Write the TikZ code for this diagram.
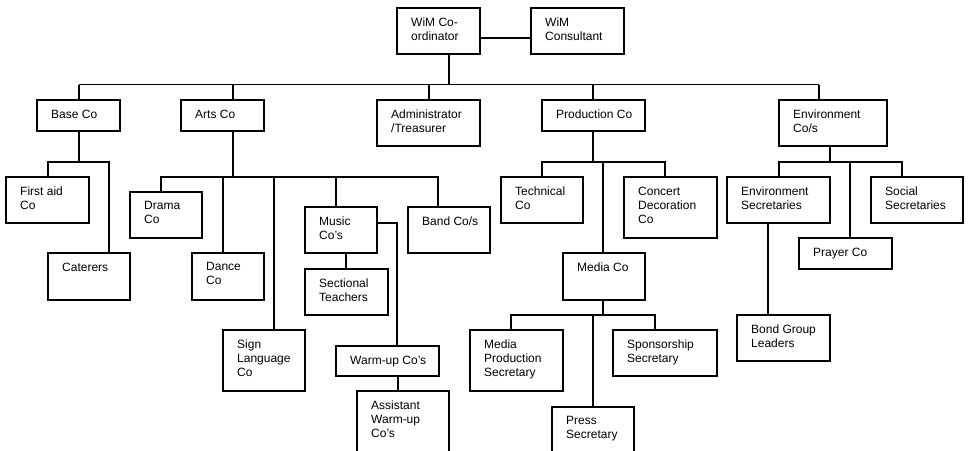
\documentclass[tikz,border=0pt]{standalone}
\usepackage{fontspec}
\setmainfont{Liberation Sans}
\tikzset{
  box/.style={draw, line width=1.1pt, inner sep=0pt, outer sep=0pt, anchor=north west},
  lbl/.style={anchor=north west, inner sep=0pt, align=left, font=\fontsize{12}{14}\selectfont},
  conn/.style={line width=1.1pt}
}
\newcommand\bx[6]{%
  \node[box, minimum width={(#4-#2)*1pt}, minimum height={(#5-#3)*1pt}] (#1) at (#2,#3) {};
  \node[lbl] (#1-t) at ([xshift=14pt,yshift=-9.5pt]#1.north west) {#6};
}
\begin{document}
\begin{tikzpicture}[x=1pt,y=-1pt]
\useasboundingbox (0,0) rectangle (969,450);
\fill[white] (0,0) rectangle (969,450);
\clip (0,0) rectangle (969,450);

% boxes
\bx{wimc}{397}{8}{480}{54}{WiM Co-\\ordinator}
\bx{wimk}{531}{8}{624}{54}{WiM\\Consultant}
\bx{base}{37}{100}{120}{131}{Base Co}
\bx{arts}{181}{100}{264}{131}{Arts Co}
\bx{admin}{377}{100}{480}{146}{Administrator\\/Treasurer}
\bx{prod}{542}{100}{645}{131}{Production Co}
\bx{env}{779}{100}{887}{146}{Environment\\Co/s}
\bx{first}{6}{177}{89}{223}{First aid\\Co}
\bx{cater}{48}{253}{130}{300}{Caterers}
\bx{drama}{130}{192}{202}{238}{Drama\\Co}
\bx{dance}{192}{253}{264}{300}{Dance\\Co}
\bx{sign}{223}{330}{305}{391}{Sign\\Language\\Co}
\bx{music}{305}{207}{377}{253}{Music\\Co's}
\bx{sect}{305}{269}{388}{315}{Sectional\\Teachers}
\bx{band}{408}{207}{490}{253}{Band Co/s}
\bx{warm}{336}{346}{439}{376}{Warm-up Co's}
\bx{asst}{357}{391}{449}{460}{Assistant\\Warm-up\\Co's}
\bx{tech}{501}{177}{583}{223}{Technical\\Co}
\bx{conc}{624}{177}{717}{238}{Concert\\Decoration\\Co}
\bx{media}{563}{253}{645}{300}{Media Co}
\bx{mps}{470}{330}{563}{391}{Media\\Production\\Secretary}
\bx{press}{552}{407}{634}{460}{Press\\Secretary}
\bx{spons}{613}{330}{717}{376}{Sponsorship\\Secretary}
\bx{envsec}{727}{177}{830}{223}{Environment\\Secretaries}
\bx{social}{871}{177}{963}{223}{Social\\Secretaries}
\bx{prayer}{799}{238}{892}{269}{Prayer Co}
\bx{bond}{737}{315}{830}{361}{Bond Group\\Leaders}

% junction coordinates
\coordinate (wl) at (480,38);
\coordinate (wr) at (531,38);
\coordinate (top) at (449,84.5);
\coordinate (busL) at (79,84.5);
\coordinate (busR) at (819,84.5);
\coordinate (dArts) at (233,84.5);
\coordinate (dAdmin) at (429,84.5);
\coordinate (dProd) at (593,84.5);

\coordinate (bj) at (79,162);
\coordinate (bjL) at (48,162);
\coordinate (bjR) at (109,162);

\coordinate (aj) at (233,177);
\coordinate (ajL) at (161,177);
\coordinate (ajDance) at (223,177);
\coordinate (ajSign) at (274,177);
\coordinate (ajMusic) at (336,177);
\coordinate (ajR) at (438,177);

\coordinate (mS) at (346,253);
\coordinate (mE) at (377,223);
\coordinate (mC) at (397,223);
\coordinate (wS) at (398,376);

\coordinate (pj) at (593,162);
\coordinate (pjL) at (542,162);
\coordinate (pjM) at (603,162);
\coordinate (pjR) at (665,162);

\coordinate (mdj) at (603,315);
\coordinate (mdL) at (511,315);
\coordinate (mdP) at (593,315);
\coordinate (mdR) at (655,315);

\coordinate (ej) at (830,162);
\coordinate (ejL) at (779,162);
\coordinate (ejP) at (850,162);
\coordinate (ejR) at (902,162);

\coordinate (esS) at (768,223);

% connectors
\draw[conn] (wl) -- (wr);
\draw[conn] (top |- wimc.south) -- (top);
\draw[conn] (busL) -- (busR);
\draw[conn] (busL) -- (busL |- base.north);
\draw[conn] (dArts) -- (dArts |- arts.north);
\draw[conn] (dAdmin) -- (dAdmin |- admin.north);
\draw[conn] (dProd) -- (dProd |- prod.north);
\draw[conn] (busR) -- (busR |- env.north);

\draw[conn] (bj |- base.south) -- (bj);
\draw[conn] (bjL |- first.north) -- (bjL) -- (bjR) -- (bjR |- cater.north);

\draw[conn] (aj |- arts.south) -- (aj);
\draw[conn] (ajL |- drama.north) -- (ajL) -- (ajR) -- (ajR |- band.north);
\draw[conn] (ajDance) -- (ajDance |- dance.north);
\draw[conn] (ajSign) -- (ajSign |- sign.north);
\draw[conn] (ajMusic) -- (ajMusic |- music.north);

\draw[conn] (mS) -- (mS |- sect.north);
\draw[conn] (mE) -- (mC) -- (mC |- warm.north);
\draw[conn] (wS) -- (wS |- asst.north);

\draw[conn] (pj |- prod.south) -- (pj);
\draw[conn] (pjL |- tech.north) -- (pjL) -- (pjR) -- (pjR |- conc.north);
\draw[conn] (pjM) -- (pjM |- media.north);

\draw[conn] (mdj |- media.south) -- (mdj);
\draw[conn] (mdL |- mps.north) -- (mdL) -- (mdR) -- (mdR |- spons.north);
\draw[conn] (mdP) -- (mdP |- press.north);

\draw[conn] (ej |- env.south) -- (ej);
\draw[conn] (ejL |- envsec.north) -- (ejL) -- (ejR) -- (ejR |- social.north);
\draw[conn] (ejP) -- (ejP |- prayer.north);

\draw[conn] (esS |- envsec.south) -- (esS |- bond.north);
\end{tikzpicture}
\end{document}
